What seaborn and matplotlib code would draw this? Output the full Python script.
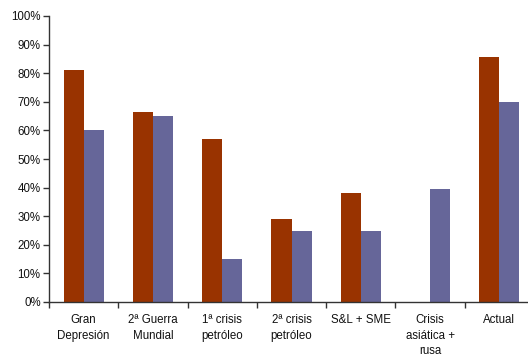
import numpy as np
import pandas as pd
import matplotlib
matplotlib.use("Agg")
import matplotlib.pyplot as plt
import seaborn as sns
from matplotlib.ticker import FixedLocator, PercentFormatter

categories = ["Gran\nDepresión", "2ª Guerra\nMundial", "1ª crisis\npetróleo",
              "2ª crisis\npetróleo", "S&L + SME", "Crisis\nasiática +\nrusa", "Actual"]
serie_a = [81, 66.5, 57, 29, 38, np.nan, 85.7]
serie_b = [60, 65, 15, 25, 25, 39.5, 70]
series_names = ["Serie A", "Serie B"]
colors = ["#993300", "#666699"]

df = pd.DataFrame({
    "cat": categories * 2,
    "val": serie_a + serie_b,
    "serie": [series_names[0]] * len(categories) + [series_names[1]] * len(categories),
})

sns.set_style("white")
plt.rcParams["font.family"] = ["Liberation Sans", "DejaVu Sans"]

fig = plt.figure(figsize=(5.28, 3.56), dpi=100)
ax = fig.add_axes([49/528, 1-302/356, (534-49)/528, (302-16)/356])

sns.barplot(data=df, x="cat", y="val", hue="serie", palette=colors,
            width=0.58, saturation=1, legend=False, ax=ax, order=categories,
            linewidth=0, edgecolor="none")

ax.set_xlim(-0.5, 6.5)
ax.set_ylim(0, 100)
ax.set_yticks(np.arange(0, 101, 10))
ax.yaxis.set_major_formatter(PercentFormatter(decimals=0))
ax.set_xlabel("")
ax.set_ylabel("")
for s in ["top", "right"]:
    ax.spines[s].set_visible(False)
for s in ["left", "bottom"]:
    ax.spines[s].set_color("#333333")
    ax.spines[s].set_linewidth(1.0)

ax.tick_params(axis="y", which="major", left=True, length=4, width=1, color="#333333",
               labelsize=8.3, pad=2, labelcolor="#111111")
ax.tick_params(axis="x", which="major", bottom=False, labelsize=8.3, pad=5, labelcolor="#111111")
ax.xaxis.set_minor_locator(FixedLocator(np.arange(-0.5, 7.0, 1.0)))
ax.tick_params(axis="x", which="minor", bottom=True, length=4, width=1, color="#333333")
for lbl in ax.get_xticklabels():
    lbl.set_horizontalalignment("center")
    lbl.set_linespacing(1.42)

fig.savefig("out.png", dpi=100)
